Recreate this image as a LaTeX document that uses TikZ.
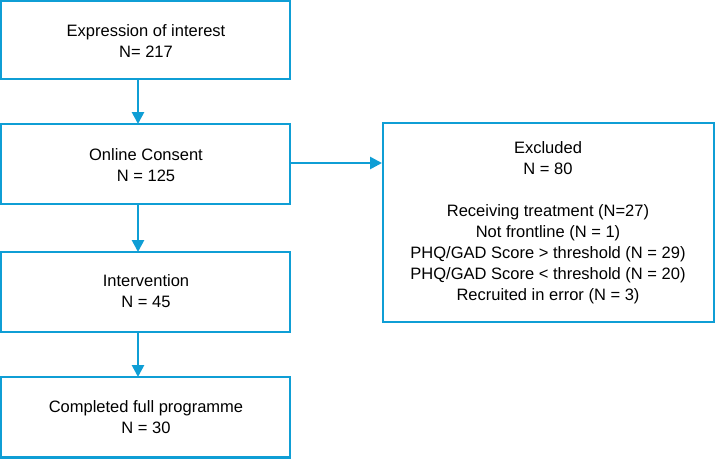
\documentclass[tikz,border=0pt]{standalone}
\usepackage{fontspec}
\setmainfont{Liberation Sans}
\usetikzlibrary{arrows.meta}
\definecolor{flowblue}{HTML}{0F9ED5}
\begin{document}
\begin{tikzpicture}[x=1pt,y=-1pt,
  flowbox/.style={draw=flowblue,line width=2.3pt,fill=white,inner sep=0pt},
  flowtext/.style={font=\fontsize{16.5}{21}\selectfont,align=center,text=black},
  flowarrow/.style={draw=flowblue,line width=2.6pt,-{Triangle[length=12pt,width=12pt]}}]
\useasboundingbox (0,0) rectangle (716,459);
\fill[white] (0,0) rectangle (716,459);
% boxes
\draw[flowbox] (1.2,1.2) rectangle (290,79);
\draw[flowbox] (1.2,124) rectangle (290,204);
\draw[flowbox] (1.2,252) rectangle (290,332);
\draw[flowbox] (1.2,377) rectangle (290,457.5);
\draw[flowbox] (383,123) rectangle (714,322);
% anchor coordinates
\coordinate (b1s) at (138,79);
\coordinate (b2n) at (138,124);
\coordinate (b2s) at (138,204);
\coordinate (b3n) at (138,252);
\coordinate (b3s) at (138,332);
\coordinate (b4n) at (138,377);
\coordinate (b2e) at (290,163);
\coordinate (exw) at (382,163);
% texts
\node[flowtext] (t1) at (146,41) {Expression of interest\\N= 217};
\node[flowtext] (t2) at (146,165) {Online Consent\\N = 125};
\node[flowtext] (t3) at (146,291) {Intervention\\N = 45};
\node[flowtext] (t4) at (146,417) {Completed full programme\\N = 30};
\node[flowtext] (t5) at (548,223) {Excluded\\N = 80\\[21pt]Receiving treatment (N=27)\\Not frontline (N = 1)\\PHQ/GAD Score > threshold (N = 29)\\PHQ/GAD Score < threshold (N = 20)\\Recruited in error (N = 3)};
% arrows
\draw[flowarrow] (b1s) -- (b2n);
\draw[flowarrow] (b2s) -- (b3n);
\draw[flowarrow] (b3s) -- (b4n);
\draw[flowarrow] (b2e) -- (exw);
\end{tikzpicture}
\end{document}
